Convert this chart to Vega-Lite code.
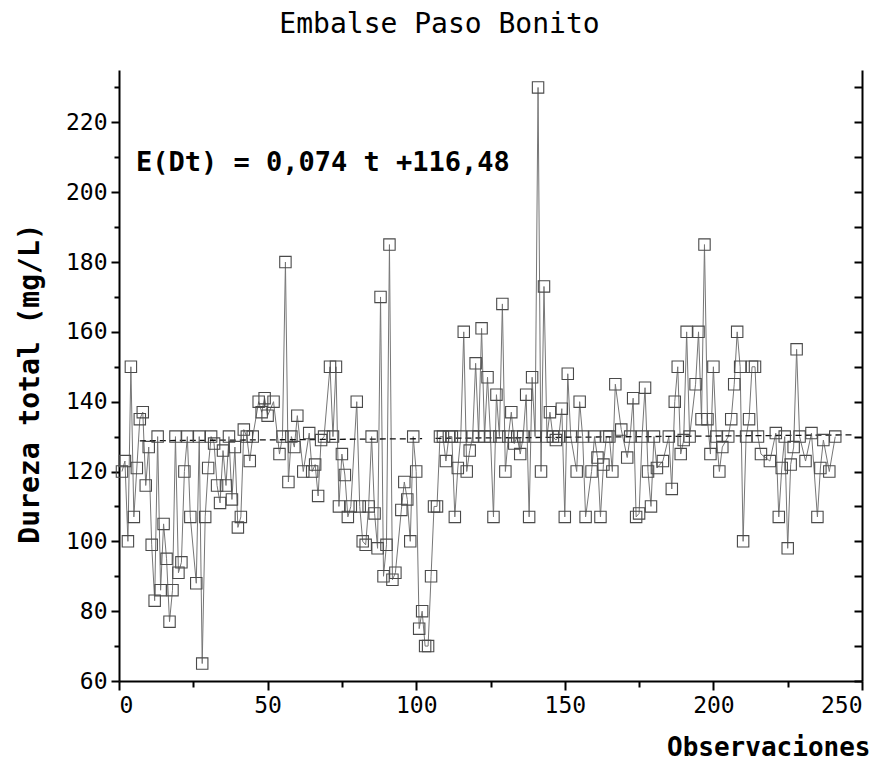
{
  "$schema": "https://vega.github.io/schema/vega-lite/v6.json",
  "autosize": "none",
  "width": 743,
  "height": 611,
  "padding": {"left": 119, "top": 70, "right": 28, "bottom": 80},
  "background": "white",
  "title": {"text": "Embalse Paso Bonito", "font": "DejaVu Sans Mono", "fontSize": 28, "fontWeight": "normal", "color": "black", "anchor": "middle", "dx": -51, "offset": 9, "baseline": "alphabetic"},
  "config": {"view": {"stroke": null}, "font": "DejaVu Sans Mono"},
  "resolve": {"scale": {"y": "independent"}, "axis": {"y": "independent"}},
  "datasets": {
    "obs": [
      {"t":1,"d":120},{"t":2,"d":123},{"t":3,"d":100},{"t":4,"d":150},{"t":5,"d":107},{"t":6,"d":121},{"t":7,"d":135},{"t":8,"d":137},{"t":9,"d":116},{"t":10,"d":127},
      {"t":11,"d":99},{"t":12,"d":83},{"t":13,"d":130},{"t":14,"d":86},{"t":15,"d":105},{"t":16,"d":95},{"t":17,"d":77},{"t":18,"d":86},{"t":19,"d":130},{"t":20,"d":91},
      {"t":21,"d":94},{"t":22,"d":120},{"t":23,"d":130},{"t":24,"d":107},{"t":26,"d":88},{"t":27,"d":130},{"t":28,"d":65},{"t":29,"d":107},{"t":30,"d":121},
      {"t":31,"d":130},{"t":32,"d":128},{"t":33,"d":116},{"t":34,"d":111},{"t":35,"d":126},{"t":36,"d":116},{"t":37,"d":130},{"t":38,"d":112},{"t":39,"d":127},{"t":40,"d":104},
      {"t":41,"d":107},{"t":42,"d":132},{"t":43,"d":130},{"t":44,"d":123},{"t":45,"d":130},{"t":47,"d":140},{"t":48,"d":137},{"t":49,"d":141},{"t":50,"d":136},
      {"t":52,"d":140},{"t":54,"d":125},{"t":55,"d":130},{"t":56,"d":180},{"t":57,"d":117},{"t":58,"d":130},{"t":59,"d":127},{"t":60,"d":136},
      {"t":62,"d":120},{"t":64,"d":131},{"t":65,"d":120},{"t":66,"d":122},{"t":67,"d":113},{"t":68,"d":129},{"t":69,"d":130},
      {"t":71,"d":150},{"t":72,"d":130},{"t":73,"d":150},{"t":74,"d":110},{"t":75,"d":125},{"t":76,"d":119},{"t":77,"d":107},{"t":78,"d":110},
      {"t":80,"d":140},{"t":81,"d":110},{"t":82,"d":100},{"t":83,"d":99},{"t":84,"d":110},{"t":85,"d":130},{"t":86,"d":108},{"t":87,"d":98},{"t":88,"d":170},{"t":89,"d":90},
      {"t":90,"d":99},{"t":91,"d":185},{"t":92,"d":89},{"t":93,"d":91},{"t":95,"d":109},{"t":96,"d":117},{"t":97,"d":112},{"t":98,"d":100},{"t":99,"d":130},
      {"t":100,"d":120},{"t":101,"d":75},{"t":102,"d":80},{"t":103,"d":70},{"t":104,"d":70},{"t":105,"d":90},{"t":106,"d":110},{"t":107,"d":110},{"t":108,"d":130},{"t":109,"d":130},
      {"t":110,"d":123},{"t":111,"d":130},{"t":112,"d":130},{"t":113,"d":107},{"t":114,"d":121},{"t":115,"d":130},{"t":116,"d":160},{"t":117,"d":120},{"t":118,"d":126},{"t":119,"d":130},
      {"t":120,"d":151},{"t":121,"d":130},{"t":122,"d":161},{"t":123,"d":130},{"t":124,"d":147},{"t":125,"d":130},{"t":126,"d":107},{"t":127,"d":142},{"t":128,"d":130},{"t":129,"d":168},
      {"t":130,"d":120},{"t":131,"d":130},{"t":132,"d":137},{"t":133,"d":128},{"t":134,"d":130},{"t":135,"d":125},{"t":136,"d":130},{"t":137,"d":142},{"t":138,"d":107},{"t":139,"d":147},
      {"t":140,"d":130},{"t":141,"d":230},{"t":142,"d":120},{"t":143,"d":173},{"t":144,"d":130},{"t":145,"d":137},{"t":146,"d":130},{"t":147,"d":129},{"t":148,"d":130},{"t":149,"d":138},
      {"t":150,"d":107},{"t":151,"d":148},{"t":152,"d":130},{"t":154,"d":120},{"t":155,"d":140},{"t":156,"d":130},{"t":157,"d":107},{"t":159,"d":120},
      {"t":160,"d":130},{"t":161,"d":124},{"t":162,"d":107},{"t":163,"d":122},{"t":164,"d":130},{"t":165,"d":130},{"t":166,"d":120},{"t":167,"d":145},{"t":169,"d":132},
      {"t":171,"d":124},{"t":172,"d":130},{"t":173,"d":141},{"t":174,"d":107},{"t":175,"d":108},{"t":176,"d":130},{"t":177,"d":144},{"t":178,"d":120},{"t":179,"d":110},
      {"t":180,"d":130},{"t":181,"d":121},{"t":183,"d":123},{"t":185,"d":130},{"t":186,"d":115},{"t":187,"d":140},{"t":188,"d":150},{"t":189,"d":125},
      {"t":190,"d":129},{"t":191,"d":160},{"t":192,"d":130},{"t":194,"d":145},{"t":195,"d":160},{"t":196,"d":135},{"t":197,"d":185},{"t":198,"d":135},{"t":199,"d":125},
      {"t":200,"d":150},{"t":201,"d":130},{"t":202,"d":120},{"t":203,"d":127},{"t":205,"d":130},{"t":206,"d":135},{"t":207,"d":145},{"t":208,"d":160},{"t":209,"d":150},
      {"t":210,"d":100},{"t":211,"d":130},{"t":212,"d":135},{"t":213,"d":150},{"t":214,"d":150},{"t":215,"d":130},{"t":216,"d":125},{"t":219,"d":123},
      {"t":221,"d":131},{"t":222,"d":107},{"t":223,"d":121},{"t":224,"d":130},{"t":225,"d":98},{"t":226,"d":122},{"t":227,"d":127},{"t":228,"d":155},{"t":229,"d":130},
      {"t":231,"d":123},{"t":233,"d":131},{"t":235,"d":107},{"t":236,"d":121},{"t":237,"d":129},{"t":239,"d":120},{"t":241,"d":130}
    ],
    "trend": [
      {"t":7,"d":128.8,"seg":1},{"t":102,"d":129.4,"seg":1},
      {"t":106.5,"d":129.5,"seg":2},{"t":247,"d":130.5,"seg":2}
    ],
    "note": [{"t":5.7,"d":208.5,"label":"E(Dt) = 0,074 t +116,48"}]
  },
  "layer": [
    {
      "data": {"name": "obs"},
      "mark": {"type": "line", "color": "#767676", "strokeWidth": 1},
      "encoding": {
        "x": {"field": "t", "type": "quantitative",
          "scale": {"domain": [0, 250], "nice": false, "zero": false},
          "axis": {"orient": "bottom", "title": "Observaciones", "values": [0,25,50,75,100,125,150,175,200,225,250],
            "labelExpr": "datum.value % 50 === 0 ? datum.label : ''",
            "labelFont": "DejaVu Sans Mono", "labelFontSize": 23, "labelColor": "black", "labelPadding": 4,
            "tickSize": {"condition": {"test": "datum.value % 50 === 0", "value": 9}, "value": 6},
            "tickColor": "black", "tickWidth": 2, "domainColor": "black", "domainWidth": 2, "grid": false,
            "titleFont": "DejaVu Sans Mono", "titleFontSize": 26, "titleFontWeight": "bold", "titleColor": "black",
            "titleAlign": "right", "titleAnchor": "end", "titleX": 751, "titleY": 74, "titleBaseline": "alphabetic"}},
        "y": {"field": "d", "type": "quantitative",
          "scale": {"domain": [60, 235], "nice": false, "zero": false},
          "axis": {"orient": "left", "title": "Dureza total (mg/L)", "values": [60,70,80,90,100,110,120,130,140,150,160,170,180,190,200,210,220,230],
            "labelExpr": "datum.value % 20 === 0 ? datum.label : ''",
            "labelFont": "DejaVu Sans Mono", "labelFontSize": 23, "labelColor": "black", "labelPadding": 4,
            "tickSize": {"condition": {"test": "datum.value % 20 === 0", "value": 8}, "value": 5},
            "tickColor": "black", "tickWidth": 2, "domainColor": "black", "domainWidth": 2, "grid": false,
            "titleFont": "DejaVu Sans Mono", "titleFontSize": 28, "titleFontWeight": "bold", "titleColor": "black",
            "titleX": -89, "titleY": 313, "titleBaseline": "middle", "titleAngle": -90, "titleAlign": "center"}}
      }
    },
    {
      "data": {"name": "trend"},
      "mark": {"type": "line", "color": "#111111", "strokeWidth": 1.3, "strokeDash": [6, 4]},
      "encoding": {
        "x": {"field": "t", "type": "quantitative"},
        "y": {"field": "d", "type": "quantitative", "scale": {"domain": [60, 235], "nice": false, "zero": false}, "axis": null},
        "detail": {"field": "seg", "type": "nominal"}
      }
    },
    {
      "data": {"name": "obs"},
      "mark": {"type": "point", "shape": "square", "filled": false, "size": 130, "stroke": "#4a4a4a", "strokeWidth": 1.1, "opacity": 1},
      "encoding": {
        "x": {"field": "t", "type": "quantitative"},
        "y": {"field": "d", "type": "quantitative",
          "scale": {"domain": [60, 235], "nice": false, "zero": false},
          "axis": {"orient": "right", "title": null, "values": [60,70,80,90,100,110,120,130,140,150,160,170,180,190,200,210,220,230],
            "labels": false,
            "tickSize": -8,
            "tickColor": "black", "tickWidth": 2, "domainColor": "black", "domainWidth": 2, "grid": false}}
      }
    },
    {
      "data": {"name": "note"},
      "mark": {"type": "text", "align": "left", "baseline": "middle", "font": "DejaVu Sans Mono", "fontSize": 27, "fontWeight": "bold", "color": "black"},
      "encoding": {
        "x": {"field": "t", "type": "quantitative"},
        "y": {"field": "d", "type": "quantitative", "scale": {"domain": [60, 235], "nice": false, "zero": false}, "axis": null},
        "text": {"field": "label"}
      }
    }
  ]
}
